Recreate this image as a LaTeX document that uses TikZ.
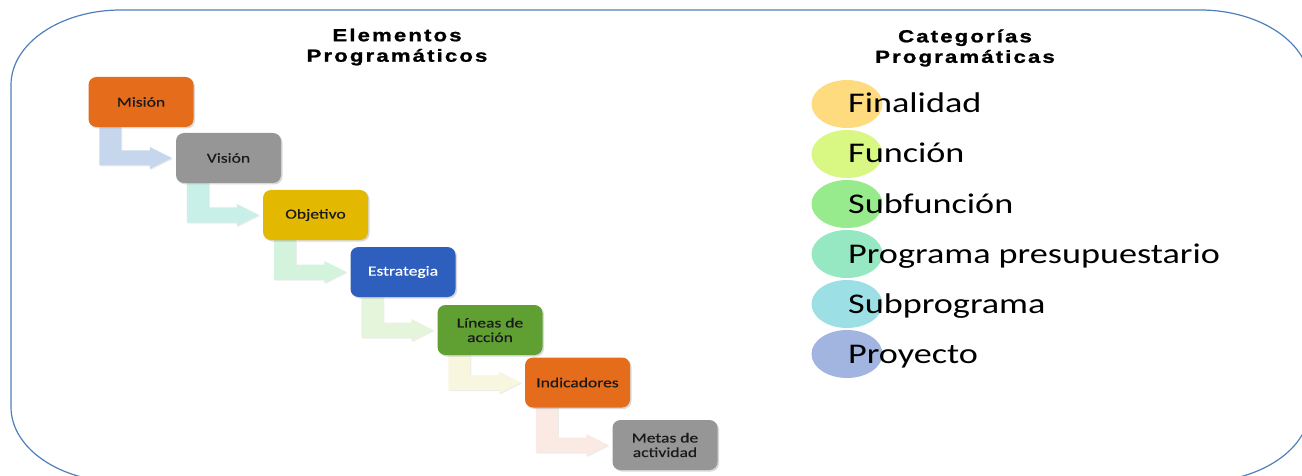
\documentclass[tikz,border=0pt]{standalone}
\usepackage{fontspec}
\setmainfont{Carlito}[FakeStretch=1.27]
\newfontfamily\titlefont{Liberation Sans}[FakeStretch=1.27,LetterSpace=12,FakeBold=1.2]
\newfontfamily\boxfont{Carlito}[FakeStretch=1.27,FakeBold=0.4]
\usetikzlibrary{positioning,calc,shapes.geometric,shadows,backgrounds}

\definecolor{framebl}{HTML}{4F7FB8}
\definecolor{orangebox}{HTML}{E46C1A}
\definecolor{graybox}{HTML}{969696}
\definecolor{goldbox}{HTML}{E3B800}
\definecolor{bluebox}{HTML}{2F5FBE}
\definecolor{greenbox}{HTML}{60A032}
\definecolor{arrA}{HTML}{C6D6EC}
\definecolor{arrB}{HTML}{C9EFE9}
\definecolor{arrC}{HTML}{D3F3DD}
\definecolor{arrD}{HTML}{E4F5DC}
\definecolor{arrE}{HTML}{F8F6DF}
\definecolor{arrF}{HTML}{FBE9E4}
\definecolor{catA}{HTML}{FFDB80}
\definecolor{catB}{HTML}{D8F783}
\definecolor{catC}{HTML}{98EB8C}
\definecolor{catD}{HTML}{95E8C1}
\definecolor{catE}{HTML}{9CE0E6}
\definecolor{catF}{HTML}{A1B5E0}

% elbow arrow from the foot of one box to the side of the next
\newcommand{\stairarrow}[3]{%
  \path ($(#1.south west)+(11,0)$) coordinate (sA) ($(#2.west)+(-26,7.5)$) coordinate (sB);
  \fill[#3, arrshadow] (sA) -- ($(#1.south west)+(33,0)$) |- ($(#2.west)+(-26,-7.5)$)
    -- ($(#2.west)+(-26,-11)$) -- ($(#2.west)+(-4,0)$) -- ($(#2.west)+(-26,11)$)
    -- (sB) -- (sA |- sB) -- cycle;}

\begin{document}
\begin{tikzpicture}[x=1pt, y=-1pt,
  elem/.style={rounded corners=8pt, minimum width=105pt, minimum height=50pt, align=center,
    inner sep=2pt, font=\boxfont\fontsize{13.8}{14.5}\selectfont, text=black!90,
    drop shadow={shadow xshift=1.5pt, shadow yshift=-1.5pt, opacity=0.3}},
  arrshadow/.style={drop shadow={shadow xshift=1pt, shadow yshift=-1pt, opacity=0.15}},
  heading/.style={align=center, font=\titlefont\bfseries\fontsize{17.5}{20.5}\selectfont},
  catdot/.style={ellipse, minimum width=71pt, minimum height=48pt, inner sep=0pt},
  cattext/.style={anchor=base west, inner sep=0pt, font=\fontsize{28.5}{30}\selectfont}]
  \useasboundingbox (0,0) rectangle (1302,476);
  \clip (0,0) rectangle (1302,476);

  % outer frame
  \draw[framebl, line width=1.2pt] (11,407) -- (11,85)
    arc[start angle=180, end angle=90, x radius=110pt, y radius=75pt] -- (1200,10)
    arc[start angle=90, end angle=0, x radius=110pt, y radius=75pt] -- (1310,407)
    arc[start angle=0, end angle=-90, x radius=110pt, y radius=75pt] -- (121,482)
    arc[start angle=270, end angle=180, x radius=110pt, y radius=75pt] -- cycle;

  \node[heading] (elemtitle) at (397,47) {Elementos\\Programáticos};
  \node[heading] (cattitle) at (965,48) {Categorías\\Programáticas};

  \node[elem, fill=orangebox] (mision) at (141,102) {Misión};
  \node[elem, fill=graybox] (vision) at (228.5,158) {Visión};
  \node[elem, fill=goldbox] (objetivo) at (315.5,215) {Objetivo};
  \node[elem, fill=bluebox, text=white] (estrategia) at (403,272) {Estrategia};
  \node[elem, fill=greenbox] (lineas) at (490,330) {Líneas de\\acción};
  \node[elem, fill=orangebox] (indicadores) at (577.5,382.5) {Indicadores};
  \node[elem, fill=graybox] (metas) at (665,445) {Metas de\\actividad};

  \begin{scope}[on background layer]
    \stairarrow{mision}{vision}{arrA}
    \stairarrow{vision}{objetivo}{arrB}
    \stairarrow{objetivo}{estrategia}{arrC}
    \stairarrow{estrategia}{lineas}{arrD}
    \stairarrow{lineas}{indicadores}{arrE}
    \stairarrow{indicadores}{metas}{arrF}
  \end{scope}

  \node[catdot, fill=catA] (finalidad) at (847,104) {};
  \node[catdot, fill=catB] (funcion) at (847,154) {};
  \node[catdot, fill=catC] (subfuncion) at (847,204) {};
  \node[catdot, fill=catD] (programa) at (847,254) {};
  \node[catdot, fill=catE] (subprograma) at (847,304) {};
  \node[catdot, fill=catF] (proyecto) at (847,354) {};

  \node[cattext] (finalidadt) at ($(finalidad.center)+(1,9)$) {Finalidad};
  \node[cattext] (funciont) at ($(funcion.center)+(1,9)$) {Función};
  \node[cattext] (subfunciont) at ($(subfuncion.center)+(1,9)$) {Subfunción};
  \node[cattext] (programat) at ($(programa.center)+(1,9)$) {Programa presupuestario};
  \node[cattext] (subprogramat) at ($(subprograma.center)+(1,9)$) {Subprograma};
  \node[cattext] (proyectot) at ($(proyecto.center)+(1,9)$) {Proyecto};
\end{tikzpicture}
\end{document}
